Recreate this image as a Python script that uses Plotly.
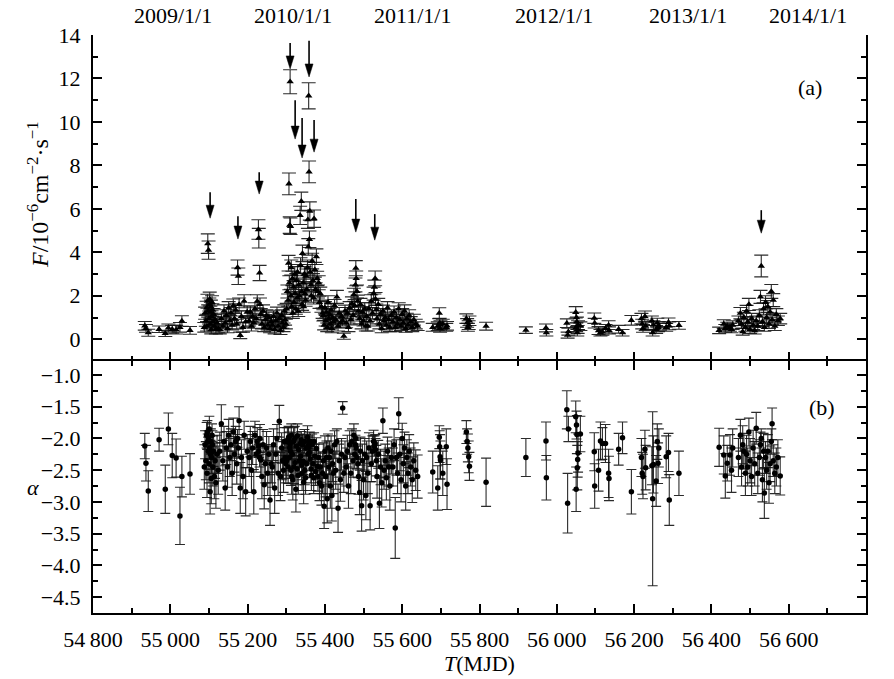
import plotly.graph_objects as go

# ---------------------------------------------------------------
# Light curve: photon flux F (10^-6 cm^-2 s^-1) and photon index alpha
# ---------------------------------------------------------------
mjd = [
    54934, 54937, 54943, 54971, 54987, 54995, 55005, 55015, 55025, 55030, 55051,
    55088, 55090, 55092, 55094, 55095, 55096, 55097, 55098, 55099, 55100, 55101, 55102, 55103, 55104, 55105, 55106, 55107, 55108, 55109, 55110, 55112, 55114, 55116, 55118, 55121, 55124,
    55128, 55132, 55136, 55139, 55142, 55145, 55148, 55151, 55154, 55157, 55160, 55163, 55166, 55169, 55172, 55174, 55176, 55178, 55181, 55184, 55188, 55191, 55195, 55199,
    55204, 55207, 55210, 55213, 55216, 55219, 55222, 55225, 55228, 55229, 55231, 55232, 55234, 55237, 55240, 55243, 55246, 55249, 55252, 55255, 55258, 55261,
    55264, 55267, 55270, 55273, 55276, 55279, 55282, 55285, 55288, 55290, 55293, 55295, 55297, 55299,
    55301, 55303, 55305, 55306, 55307, 55308, 55309, 55310, 55311, 55312, 55313, 55314, 55316, 55317, 55319, 55320, 55322, 55323, 55325, 55326, 55328, 55329, 55331, 55332, 55334, 55336, 55337, 55339, 55340, 55341, 55342, 55344, 55345, 55347, 55348, 55350, 55351, 55353, 55355, 55356, 55357, 55358, 55359, 55360, 55361, 55362, 55364, 55365, 55367, 55369, 55371, 55372, 55374, 55376, 55378, 55380, 55382, 55384, 55386, 55388, 55391, 55394,
    55396, 55398, 55400, 55402, 55404, 55406, 55408, 55410, 55412, 55414, 55416, 55418, 55420, 55422, 55425, 55428, 55431, 55434, 55437, 55440, 55443, 55446, 55449, 55452,
    55455, 55458, 55461, 55464, 55467, 55470, 55473, 55475, 55477, 55479, 55480, 55481, 55483, 55485, 55487, 55490, 55492, 55495, 55497, 55500, 55503, 55506,
    55508, 55511, 55514, 55517, 55520, 55523, 55526, 55528, 55530, 55531, 55533, 55535, 55538, 55541, 55544, 55547, 55550, 55553, 55556, 55559, 55562, 55565, 55568, 55572,
    55576, 55579, 55582, 55585, 55588, 55591, 55594, 55597, 55600, 55603, 55606, 55609, 55612, 55615, 55618, 55622, 55626, 55630, 55635, 55640,
    55679, 55692, 55696, 55697, 55698, 55699, 55705, 55714, 55716,
    55766, 55768, 55770, 55772, 55774,
    55817, 55920, 55972, 55973, 56026, 56028, 56030, 56049, 56050, 56051, 56052, 56053, 56054, 56055, 56061, 56097, 56098, 56108, 56113, 56118, 56126, 56134, 56135, 56160, 56170, 56193, 56219, 56221, 56223, 56228, 56230, 56246, 56248, 56250, 56257, 56260, 56262, 56264, 56283, 56289, 56291, 56316,
    56420, 56432, 56436, 56441, 56448, 56452, 56455, 56470, 56475, 56478, 56481, 56484, 56488, 56491, 56494, 56497, 56500, 56504, 56508, 56512, 56516, 56520, 56524, 56527, 56529, 56532, 56535, 56537, 56540, 56543, 56546, 56549, 56552, 56555, 56557, 56560, 56564, 56568, 56572, 56578,
]

flux = [
    0.62, 0.50, 0.30, 0.46, 0.27, 0.52, 0.46, 0.44, 0.55, 0.84, 0.41,
    0.55, 1.20, 0.85, 1.45, 0.60, 1.75, 4.40, 1.30, 4.10, 0.95, 1.60, 1.85, 0.70, 1.25, 1.50, 0.45, 1.05, 1.70, 1.35, 0.80, 1.15, 0.60, 0.90, 0.45, 0.75, 0.50,
    0.45, 0.95, 0.60, 1.30, 0.75, 1.10, 0.50, 1.45, 0.85, 1.20, 0.65, 1.55, 0.95, 1.35, 0.70, 3.30, 2.90, 1.60, 0.18, 1.05, 0.55, 1.75, 0.80, 1.25,
    0.85, 1.25, 0.60, 1.05, 0.75, 1.40, 0.95, 1.75, 5.05, 4.65, 3.05, 1.60, 1.15, 0.70, 1.30, 0.55, 0.90, 1.10, 0.65, 1.00, 0.50, 0.80,
    0.65, 1.05, 0.45, 0.85, 1.20, 0.60, 0.95, 0.40, 1.10, 0.75, 0.55, 1.30, 0.90, 0.70,
    1.40, 2.20, 1.80, 3.50, 7.15, 2.60, 5.25, 11.85, 5.20, 2.00, 3.30, 1.50, 2.80, 1.20, 2.40, 1.70, 3.00, 2.10, 1.40, 2.70, 1.90, 3.10, 1.30, 2.50, 2.00, 5.70, 3.40, 6.35, 2.20, 1.60, 3.95, 2.60, 1.50, 3.00, 2.10, 1.80, 2.90, 2.30, 3.30, 5.50, 4.25, 11.20, 7.70, 4.60, 5.90, 3.10, 2.50, 2.00, 3.60, 2.70, 1.90, 5.55, 3.20, 2.30, 3.80, 2.80, 2.20, 2.60, 1.70, 2.10, 1.50, 1.20,
    1.10, 0.65, 1.45, 0.85, 1.25, 0.55, 1.70, 0.95, 1.15, 0.70, 1.35, 0.50, 1.00, 0.80, 1.55, 0.90, 1.95, 0.60, 1.20, 0.75, 1.05, 0.85, 0.14, 1.30,
    0.75, 1.20, 0.55, 1.45, 0.90, 1.65, 1.10, 2.05, 1.55, 2.50, 3.27, 2.80, 2.20, 1.75, 1.30, 0.95, 1.60, 0.70, 1.25, 0.85, 1.40, 0.60,
    1.05, 0.60, 1.40, 0.85, 1.75, 1.20, 2.10, 2.40, 2.80, 1.85, 1.35, 0.95, 1.60, 0.70, 1.15, 0.50, 1.30, 0.85, 1.00, 0.65, 1.45, 0.90, 0.55, 1.10,
    0.80, 1.25, 0.55, 1.00, 0.70, 1.40, 0.90, 0.60, 1.15, 0.75, 1.30, 0.50, 0.95, 0.65, 1.10, 0.80, 0.55, 0.90, 0.70, 0.60,
    0.55, 0.60, 1.20, 0.75, 0.50, 0.65, 0.70, 0.55, 0.62,
    0.95, 0.75, 0.55, 0.65, 0.85,
    0.60, 0.42, 0.52, 0.30, 0.74, 0.19, 0.35, 1.24, 0.55, 1.00, 0.80, 0.30, 0.45, 0.65, 0.60, 0.97, 0.74, 0.40, 0.30, 0.35, 0.50, 0.65, 0.41, 0.46, 0.30, 0.87, 0.95, 0.70, 0.50, 1.05, 0.60, 0.85, 0.30, 0.65, 0.45, 0.75, 0.55, 0.62, 0.55, 0.78, 0.62, 0.64,
    0.41, 0.70, 0.50, 0.60, 0.55, 0.46, 0.65, 0.85, 1.20, 0.70, 0.35, 1.00, 0.55, 1.30, 0.80, 1.60, 0.45, 0.95, 0.65, 0.40, 0.85, 0.60, 1.10, 1.95, 3.37, 0.80, 1.40, 0.55, 1.70, 1.00, 1.50, 0.70, 1.25, 2.20, 0.90, 1.80, 0.60, 1.15, 0.85, 0.95,
]

flux_err = [
    0.20, 0.18, 0.16, 0.15, 0.14, 0.18, 0.18, 0.20, 0.22, 0.24, 0.18,
    0.22, 0.28, 0.25, 0.30, 0.22, 0.32, 0.45, 0.28, 0.42, 0.25, 0.30, 0.32, 0.22, 0.28, 0.30, 0.20, 0.26, 0.30, 0.28, 0.24, 0.26, 0.22, 0.24, 0.20, 0.22, 0.20,
    0.20, 0.25, 0.22, 0.28, 0.24, 0.26, 0.20, 0.28, 0.24, 0.26, 0.22, 0.30, 0.24, 0.28, 0.22, 0.35, 0.38, 0.30, 0.15, 0.26, 0.22, 0.30, 0.24, 0.28,
    0.24, 0.28, 0.22, 0.26, 0.24, 0.28, 0.25, 0.30, 0.45, 0.45, 0.35, 0.30, 0.26, 0.22, 0.28, 0.20, 0.24, 0.26, 0.22, 0.25, 0.20, 0.24,
    0.22, 0.26, 0.20, 0.24, 0.28, 0.22, 0.25, 0.18, 0.26, 0.24, 0.20, 0.28, 0.25, 0.22,
    0.25, 0.30, 0.28, 0.36, 0.50, 0.32, 0.38, 0.55, 0.38, 0.30, 0.35, 0.26, 0.33, 0.24, 0.30, 0.28, 0.34, 0.30, 0.25, 0.32, 0.28, 0.34, 0.25, 0.32, 0.30, 0.42, 0.35, 0.42, 0.30, 0.27, 0.38, 0.32, 0.26, 0.34, 0.30, 0.28, 0.33, 0.30, 0.35, 0.40, 0.38, 0.60, 0.50, 0.38, 0.42, 0.34, 0.32, 0.30, 0.36, 0.32, 0.28, 0.40, 0.34, 0.30, 0.36, 0.33, 0.30, 0.32, 0.28, 0.30, 0.26, 0.24,
    0.26, 0.22, 0.28, 0.24, 0.26, 0.20, 0.30, 0.25, 0.26, 0.22, 0.28, 0.20, 0.25, 0.24, 0.28, 0.24, 0.30, 0.22, 0.26, 0.23, 0.25, 0.24, 0.14, 0.27,
    0.22, 0.26, 0.20, 0.28, 0.24, 0.30, 0.26, 0.30, 0.28, 0.32, 0.35, 0.34, 0.30, 0.28, 0.26, 0.24, 0.28, 0.22, 0.26, 0.24, 0.28, 0.22,
    0.25, 0.22, 0.28, 0.24, 0.30, 0.26, 0.30, 0.32, 0.34, 0.30, 0.27, 0.24, 0.28, 0.22, 0.26, 0.20, 0.27, 0.24, 0.25, 0.22, 0.28, 0.24, 0.20, 0.26,
    0.24, 0.28, 0.20, 0.26, 0.22, 0.28, 0.25, 0.20, 0.26, 0.22, 0.28, 0.18, 0.25, 0.21, 0.26, 0.24, 0.20, 0.25, 0.22, 0.20,
    0.18, 0.20, 0.25, 0.22, 0.18, 0.20, 0.22, 0.18, 0.20,
    0.22, 0.20, 0.18, 0.20, 0.22,
    0.18, 0.15, 0.18, 0.15, 0.20, 0.14, 0.16, 0.26, 0.20, 0.24, 0.22, 0.15, 0.18, 0.20, 0.20, 0.24, 0.22, 0.18, 0.15, 0.16, 0.18, 0.20, 0.16, 0.18, 0.15, 0.22, 0.24, 0.22, 0.18, 0.25, 0.20, 0.22, 0.15, 0.20, 0.18, 0.22, 0.20, 0.20, 0.18, 0.20, 0.18, 0.18,
    0.15, 0.20, 0.18, 0.18, 0.18, 0.16, 0.20, 0.22, 0.26, 0.20, 0.16, 0.24, 0.18, 0.26, 0.22, 0.28, 0.18, 0.24, 0.20, 0.16, 0.22, 0.20, 0.26, 0.30, 0.50, 0.22, 0.28, 0.18, 0.30, 0.24, 0.28, 0.20, 0.26, 0.32, 0.24, 0.30, 0.20, 0.26, 0.22, 0.24,
]

alpha = [
    -2.12, -2.39, -2.83, -2.02, -2.80, -1.85, -2.27, -2.31, -3.22, -2.60, -2.56,
    -2.45, -2.10, -2.35, -1.95, -2.55, -1.90, -2.05, -2.20, -2.00, -2.40, -1.85, -2.15, -2.84, -2.25, -2.05, -2.63, -2.30, -1.95, -2.10, -2.45, -2.20, -2.60, -2.35, -2.70, -2.25, -2.50,
    -2.20, -1.77, -2.35, -2.05, -2.78, -2.15, -2.45, -1.95, -2.30, -2.10, -2.55, -1.90, -2.25, -2.05, -2.40, -2.00, -2.15, -1.72, -2.78, -2.30, -2.60, -1.95, -2.84, -2.20,
    -2.30, -2.05, -2.50, -2.15, -2.84, -1.95, -2.25, -2.05, -2.12, -2.20, -2.30, -2.00, -2.34, -2.60, -2.10, -2.73, -2.40, -2.15, -2.55, -2.25, -2.97, -2.40,
    -2.45, -2.10, -2.78, -2.25, -2.00, -2.55, -1.73, -2.60, -2.15, -2.35, -2.50, -2.05, -2.30, -2.40,
    -2.35, -2.05, -2.45, -1.98, -2.02, -2.30, -2.15, -2.10, -2.20, -2.50, -1.95, -2.60, -2.25, -2.65, -2.05, -2.45, -2.00, -2.38, -2.80, -2.12, -2.48, -1.96, -2.58, -2.18, -2.35, -2.08, -2.28, -2.02, -2.42, -2.55, -2.10, -2.36, -2.69, -2.05, -2.50, -2.62, -2.15, -2.40, -1.98, -2.12, -2.25, -2.06, -2.14, -2.22, -2.04, -2.32, -2.48, -2.58, -2.10, -2.40, -2.62, -2.05, -2.28, -2.52, -2.16, -2.44, -2.60, -2.30, -2.70, -2.45, -2.75, -2.55,
    -2.35, -3.07, -2.20, -2.60, -2.30, -2.95, -2.15, -2.45, -2.30, -2.75, -2.20, -2.90, -2.40, -2.55, -2.10, -2.50, -2.05, -3.10, -2.35, -2.65, -2.25, -1.52, -2.55, -2.30,
    -2.45, -2.20, -2.75, -2.10, -2.55, -2.05, -2.35, -1.95, -2.25, -2.10, -2.00, -2.15, -2.30, -2.40, -2.60, -2.85, -2.20, -3.06, -2.35, -2.65, -2.25, -2.90,
    -2.30, -2.55, -2.15, -3.06, -2.40, -2.20, -2.05, -2.12, -2.08, -2.18, -2.35, -2.60, -2.25, -3.02, -2.45, -2.70, -1.72, -2.50, -2.35, -2.62, -2.20, -2.45, -2.75, -2.30,
    -2.45, -2.10, -3.41, -2.30, -2.55, -1.61, -2.25, -2.65, -2.00, -2.40, -2.15, -2.75, -2.30, -2.55, -2.20, -2.45, -2.65, -2.35, -2.50, -2.60,
    -2.53, -2.78, -1.98, -2.13, -2.29, -2.34, -2.55, -2.13, -2.72,
    -1.90, -2.05, -2.15, -2.29, -2.44,
    -2.69, -2.30, -2.04, -2.62, -1.55, -3.02, -1.85, -1.66, -2.80, -1.79, -1.94, -2.46, -2.33, -2.23, -1.93, -2.21, -2.75, -2.50, -2.04, -2.08, -2.08, -2.55, -2.63, -2.17, -1.99, -2.84, -2.30, -2.55, -2.60, -2.17, -2.46, -2.43, -2.95, -2.41, -2.67, -2.05, -2.39, -2.15, -2.29, -2.22, -2.97, -2.55,
    -2.14, -2.26, -2.59, -2.39, -2.26, -2.50, -2.15, -2.30, -1.95, -2.45, -2.10, -2.20, -2.55, -2.25, -2.45, -1.90, -2.35, -2.60, -2.15, -2.40, -1.84, -2.55, -2.30, -2.10, -2.00, -2.65, -2.20, -2.86, -2.30, -2.50, -2.20, -2.70, -2.40, -2.05, -1.77, -2.35, -2.55, -2.45, -2.30, -2.59,
]

alpha_err = [
    0.20, 0.28, 0.32, 0.18, 0.38, 0.25, 0.35, 0.30, 0.45, 0.32, 0.32,
    0.35, 0.22, 0.30, 0.20, 0.38, 0.18, 0.12, 0.22, 0.12, 0.30, 0.20, 0.18, 0.35, 0.22, 0.20, 0.40, 0.25, 0.18, 0.22, 0.30, 0.24, 0.35, 0.28, 0.40, 0.30, 0.38,
    0.30, 0.30, 0.32, 0.24, 0.35, 0.26, 0.32, 0.25, 0.30, 0.25, 0.35, 0.22, 0.28, 0.24, 0.32, 0.14, 0.16, 0.22, 0.40, 0.28, 0.35, 0.22, 0.38, 0.26,
    0.30, 0.24, 0.35, 0.26, 0.35, 0.22, 0.28, 0.22, 0.10, 0.10, 0.15, 0.22, 0.26, 0.35, 0.24, 0.38, 0.30, 0.26, 0.35, 0.28, 0.40, 0.30,
    0.32, 0.25, 0.40, 0.28, 0.22, 0.35, 0.25, 0.38, 0.24, 0.30, 0.35, 0.22, 0.28, 0.30,
    0.28, 0.22, 0.26, 0.17, 0.12, 0.21, 0.14, 0.10, 0.14, 0.24, 0.18, 0.28, 0.21, 0.32, 0.22, 0.26, 0.19, 0.23, 0.36, 0.21, 0.25, 0.19, 0.30, 0.22, 0.24, 0.14, 0.18, 0.13, 0.23, 0.27, 0.17, 0.21, 0.34, 0.19, 0.23, 0.26, 0.21, 0.22, 0.18, 0.14, 0.15, 0.10, 0.12, 0.15, 0.14, 0.19, 0.22, 0.24, 0.17, 0.21, 0.25, 0.14, 0.19, 0.22, 0.17, 0.21, 0.23, 0.21, 0.28, 0.24, 0.30, 0.32,
    0.28, 0.35, 0.24, 0.32, 0.26, 0.38, 0.22, 0.30, 0.26, 0.35, 0.24, 0.40, 0.28, 0.32, 0.22, 0.30, 0.20, 0.38, 0.26, 0.34, 0.25, 0.10, 0.30, 0.26,
    0.30, 0.25, 0.35, 0.22, 0.32, 0.20, 0.26, 0.18, 0.22, 0.15, 0.12, 0.14, 0.18, 0.22, 0.28, 0.35, 0.22, 0.40, 0.26, 0.32, 0.25, 0.38,
    0.26, 0.32, 0.24, 0.38, 0.28, 0.24, 0.18, 0.16, 0.14, 0.18, 0.24, 0.34, 0.22, 0.40, 0.28, 0.38, 0.20, 0.30, 0.26, 0.35, 0.22, 0.30, 0.38, 0.26,
    0.30, 0.25, 0.48, 0.28, 0.32, 0.25, 0.26, 0.35, 0.24, 0.30, 0.25, 0.38, 0.28, 0.32, 0.26, 0.30, 0.36, 0.28, 0.32, 0.34,
    0.33, 0.35, 0.18, 0.25, 0.35, 0.30, 0.35, 0.28, 0.40,
    0.18, 0.20, 0.22, 0.25, 0.22,
    0.38, 0.30, 0.30, 0.35, 0.30, 0.47, 0.20, 0.25, 0.35, 0.22, 0.30, 0.35, 0.28, 0.30, 0.28, 0.30, 0.35, 0.33, 0.30, 0.25, 0.30, 0.38, 0.35, 0.25, 0.25, 0.35, 0.30, 0.33, 0.35, 0.30, 0.35, 0.30, 1.37, 0.45, 0.40, 0.28, 0.32, 0.30, 0.33, 0.30, 0.40, 0.35,
    0.30, 0.30, 0.35, 0.28, 0.32, 0.35, 0.30, 0.30, 0.25, 0.30, 0.30, 0.28, 0.35, 0.30, 0.30, 0.22, 0.35, 0.30, 0.28, 0.35, 0.25, 0.32, 0.28, 0.20, 0.15, 0.35, 0.28, 0.40, 0.25, 0.30, 0.26, 0.32, 0.28, 0.20, 0.25, 0.25, 0.32, 0.30, 0.28, 0.30,
]

assert len(mjd) == len(flux) == len(flux_err) == len(alpha) == len(alpha_err), (
    len(mjd), len(flux), len(flux_err), len(alpha), len(alpha_err))

# flare markers in panel (a): MJD, arrow tail and arrow tip (flux units)
arrow_mjd = [55103, 55175, 55230, 55310, 55359, 55323, 55341, 55372, 55480, 55529, 56529]
arrow_tail = [6.77, 5.66, 7.69, 13.63, 13.73, 11.00, 10.18, 10.09, 6.45, 5.76, 5.94]
arrow_tip = [5.57, 4.61, 6.68, 12.44, 12.07, 9.21, 8.34, 8.61, 4.93, 4.56, 4.88]

# calendar axis along the top of panel (a)
date_major_mjd = [55008, 55339, 55669, 56000, 56330, 56661]
date_minor_mjd = [54843, 55173, 55504, 55834, 56165, 56495]
date_label_mjd = [55007, 55317, 55627, 55994, 56340, 56650]
date_labels = ["2009/1/1", "2010/1/1", "2011/1/1", "2012/1/1", "2013/1/1", "2014/1/1"]

# ---------------------------------------------------------------
W, H = 894, 679
ML, MR, MT, MB = 93, 28, 35, 66
X_RANGE = [54800, 56800]
F_RANGE = [-1, 14]
A_RANGE = [-4.75, -0.78]
SPLIT = 0.436  # fraction of plot height given to panel (b)

FONT = "Liberation Serif, Times New Roman, Times, serif"
FS = 22
INK = "black"
BAR = "rgba(20,20,20,0.9)"

plot_w = W - ML - MR
plot_h = H - MT - MB
top_h = plot_h * (1 - SPLIT)
mjd_per_px = (X_RANGE[1] - X_RANGE[0]) / plot_w
flux_per_px = (F_RANGE[1] - F_RANGE[0]) / top_h

fig = go.Figure()

fig.add_trace(go.Scatter(
    x=mjd, y=flux, mode="markers", xaxis="x", yaxis="y",
    marker=dict(symbol="triangle-up", size=6.5, color=INK),
    error_y=dict(type="data", array=flux_err, color=BAR, thickness=1.1, width=7),
    showlegend=False, hoverinfo="skip",
))
fig.add_trace(go.Scatter(
    x=mjd, y=alpha, mode="markers", xaxis="x2", yaxis="y2",
    marker=dict(symbol="circle", size=5.5, color=INK),
    error_y=dict(type="data", array=alpha_err, color=BAR, thickness=1.1, width=5),
    showlegend=False, hoverinfo="skip",
))

# arrows: shaft line plus a narrow filled head
head_half_w = 4.0 * mjd_per_px
head_len = 13.0 * flux_per_px
shapes = []
for xm, yt, yh in zip(arrow_mjd, arrow_tail, arrow_tip):
    shapes.append(dict(type="line", xref="x", yref="y", x0=xm, x1=xm,
                       y0=yt, y1=yh + head_len * 0.6,
                       line=dict(color=INK, width=1.6)))
    shapes.append(dict(type="path", xref="x", yref="y",
                       path=f"M {xm - head_half_w},{yh + head_len} "
                            f"L {xm + head_half_w},{yh + head_len} L {xm},{yh} Z",
                       fillcolor=INK, line=dict(color=INK, width=0.5)))

tick_font = dict(family=FONT, size=FS, color=INK)
common = dict(showgrid=False, zeroline=False, showline=True, linecolor=INK,
              linewidth=2, ticks="inside", tickcolor=INK, tickwidth=1.5,
              tickfont=tick_font, automargin=False)

fig.update_layout(
    width=W, height=H,
    margin=dict(l=ML, r=MR, t=MT, b=MB),
    paper_bgcolor="white", plot_bgcolor="white",
    separators=".\u2009",
    font=dict(family=FONT, size=FS, color=INK),
    # panel (a) bottom edge: ticks only, the line itself comes from panel (b)
    xaxis=dict(common, domain=[0, 1], anchor="y", range=X_RANGE, showline=False,
               tickmode="linear", tick0=54800, dtick=200, ticklen=9,
               minor=dict(dtick=100, ticklen=5, ticks="inside", tickcolor=INK, tickwidth=1.5),
               showticklabels=False),
    xaxis2=dict(common, domain=[0, 1], anchor="y2", range=X_RANGE,
                tickmode="linear", tick0=54800, dtick=200, ticklen=9,
                tickformat=",d", mirror="ticks", ticklabelstandoff=6,
                minor=dict(dtick=100, ticklen=5, ticks="inside", tickcolor=INK, tickwidth=1.5)),
    xaxis3=dict(common, overlaying="x", anchor="y", side="top", range=X_RANGE,
                tickmode="array", tickvals=date_major_mjd, ticklen=8,
                minor=dict(tickmode="array", tickvals=date_minor_mjd, ticklen=4,
                           ticks="inside", tickcolor=INK, tickwidth=1.5),
                showticklabels=False),
    yaxis=dict(common, domain=[SPLIT, 1], anchor="x", range=F_RANGE,
               tickmode="linear", tick0=0, dtick=2, ticklen=9, mirror="ticks",
               ticklabelstandoff=6,
               minor=dict(dtick=1, ticklen=5, ticks="inside", tickcolor=INK, tickwidth=1.5)),
    yaxis2=dict(common, domain=[0, SPLIT], anchor="x2", range=A_RANGE,
                tickmode="linear", tick0=-1.0, dtick=0.5, tickformat=".1f",
                ticklen=9, mirror="ticks", ticklabelstandoff=6,
                minor=dict(dtick=0.25, ticklen=5, ticks="inside", tickcolor=INK, tickwidth=1.5)),
    shapes=shapes,
)

ann = []
for xm, txt in zip(date_label_mjd, date_labels):
    ann.append(dict(x=xm, y=1, xref="x", yref="paper", text=txt, showarrow=False,
                    xanchor="center", yanchor="bottom", yshift=5,
                    font=dict(family=FONT, size=FS, color=INK)))
# axis titles and panel tags
ann += [
    dict(x=(38 - ML) / plot_w, y=1 - (195 - MT) / plot_h, xref="paper", yref="paper",
         text="<i>F</i>/10<sup>−6</sup>cm<sup>−2</sup>·s<sup>−1</sup>", textangle=-90,
         showarrow=False, xanchor="center", yanchor="middle",
         font=dict(family=FONT, size=FS + 2, color=INK)),
    dict(x=(33 - ML) / plot_w, y=1 - (487 - MT) / plot_h, xref="paper", yref="paper",
         text="<i>α</i>", showarrow=False, xanchor="center", yanchor="middle",
         font=dict(family=FONT, size=FS, color=INK)),
    dict(x=0.5, y=-(663 - (H - MB)) / plot_h, xref="paper", yref="paper",
         text="<i>T</i>(MJD)", showarrow=False, xanchor="center", yanchor="middle",
         font=dict(family=FONT, size=FS, color=INK)),
    dict(x=(810 - ML) / plot_w, y=1 - (87 - MT) / plot_h, xref="paper", yref="paper",
         text="(a)", showarrow=False, xanchor="center", yanchor="middle",
         font=dict(family=FONT, size=FS, color=INK)),
    dict(x=(822 - ML) / plot_w, y=1 - (407 - MT) / plot_h, xref="paper", yref="paper",
         text="(b)", showarrow=False, xanchor="center", yanchor="middle",
         font=dict(family=FONT, size=FS, color=INK)),
]
fig.update_layout(annotations=ann)

fig.write_html("out.html")
